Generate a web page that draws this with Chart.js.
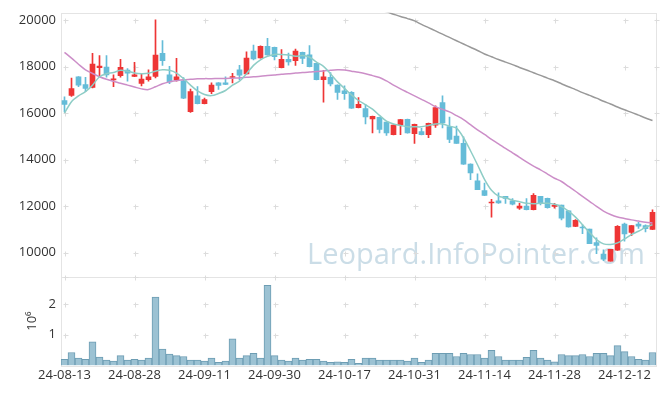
<!DOCTYPE html>
<html>
<head>
<meta charset="utf-8">
<script src="https://cdn.jsdelivr.net/npm/chart.js@4"></script>
<style>
  html, body { margin: 0; padding: 0; background: #fff; }
  canvas { display: block; }
</style>
</head>
<body>
<canvas id="myChart" width="665" height="396"></canvas>
<script>
// trading days (KRX), 24-08-13 .. 24-12-18
const dates = [
  '24-08-13','24-08-14','24-08-16','24-08-19','24-08-20','24-08-21','24-08-22','24-08-23','24-08-26','24-08-27',
  '24-08-28','24-08-29','24-08-30','24-09-02','24-09-03','24-09-04','24-09-05','24-09-06','24-09-09','24-09-10',
  '24-09-11','24-09-12','24-09-13','24-09-19','24-09-20','24-09-23','24-09-24','24-09-25','24-09-26','24-09-27',
  '24-09-30','24-10-02','24-10-04','24-10-07','24-10-08','24-10-10','24-10-11','24-10-14','24-10-15','24-10-16',
  '24-10-17','24-10-18','24-10-21','24-10-22','24-10-23','24-10-24','24-10-25','24-10-28','24-10-29','24-10-30',
  '24-10-31','24-11-01','24-11-04','24-11-05','24-11-06','24-11-07','24-11-08','24-11-11','24-11-12','24-11-13',
  '24-11-14','24-11-15','24-11-18','24-11-19','24-11-20','24-11-21','24-11-22','24-11-25','24-11-26','24-11-27',
  '24-11-28','24-11-29','24-12-02','24-12-03','24-12-04','24-12-05','24-12-06','24-12-09','24-12-10','24-12-11',
  '24-12-12','24-12-13','24-12-16','24-12-17','24-12-18'
];

const openP = [
  16540,16760,17560,17220,17100,17950,17980,17430,17610,17850,
  17570,17270,17440,17570,18570,17640,17430,17390,16060,16740,
  16400,16920,17300,17300,17530,17860,17680,18660,18370,18870,
  18830,17950,18310,18250,18610,18500,18140,17440,17540,17200,
  16960,16890,16230,16190,15750,15820,15610,15070,15490,15730,
  15110,15210,15070,15480,16450,15420,15010,14700,13810,13090,
  12670,12140,12230,12420,12230,11910,12000,11850,12420,12340,
  11990,12050,11800,11130,11100,11020,10440,9940,9640,10110,
  11230,10870,11230,11170,11000
];
const highP = [
  16700,17500,17570,17540,18570,18470,18470,17640,18310,17910,
  18180,17690,17860,20010,19110,18010,18350,17530,17030,17140,
  16640,17300,17310,17560,17710,18050,18630,18920,18890,19210,
  18840,18730,18580,18750,18620,18900,18140,17840,17740,17210,
  17170,16920,16670,16360,15870,15830,15610,15490,15730,15740,
  15530,15340,15570,16310,16740,15830,15440,14980,13820,13390,
  12990,12290,12570,12420,12330,12120,12330,12540,12420,12350,
  12120,12050,11810,11420,11200,11020,10640,10120,10150,11160,
  11270,11160,11300,11200,11840
];
const lowP = [
  16050,16720,17130,16920,17080,17590,17540,17130,17540,17370,
  17560,17170,17370,17510,18050,17260,17370,16620,16030,16390,
  16390,16830,17020,17220,17300,17420,17670,18280,18360,18490,
  18280,17940,18060,18050,18120,17980,17430,16470,17170,16590,
  16590,16200,16220,15530,15150,15150,15040,15060,15070,15140,
  14700,15060,14940,15380,15360,14730,14700,13790,13140,12710,
  12450,11530,12120,12120,12050,11860,11840,11840,12050,11910,
  11910,11410,11100,11120,10820,10390,9960,9660,9640,10100,
  10490,10730,11040,10890,10990
];
const closeP = [
  16370,17050,17200,17060,18110,18020,17640,17470,17970,17720,
  17640,17460,17560,18490,18250,17340,17560,16640,16920,16400,
  16580,17200,17190,17230,17570,17630,18360,18330,18870,18500,
  18420,18310,18200,18660,18350,17990,17440,17560,17250,16890,
  16830,16210,16380,15830,15860,15300,15150,15480,15720,15150,
  15520,15070,15560,16240,15580,14870,14700,13800,13430,12710,
  12460,12180,12140,12330,12080,12000,11850,12470,12120,11930,
  12050,11480,11110,11390,11060,10390,10310,9720,10140,11130,
  10810,11160,11140,11030,11740
];

// volume, shares
const volume = [
  200000,420000,235000,200000,770000,270000,170000,140000,320000,170000,
  200000,170000,235000,2230000,530000,365000,320000,290000,170000,170000,
  140000,235000,100000,140000,870000,235000,320000,390000,235000,2610000,
  320000,170000,140000,235000,170000,200000,200000,140000,100000,120000,
  100000,200000,70000,235000,235000,170000,170000,170000,170000,140000,
  235000,100000,170000,390000,390000,390000,290000,390000,355000,355000,
  235000,490000,290000,170000,170000,170000,260000,490000,235000,170000,
  120000,355000,320000,320000,355000,290000,390000,390000,320000,645000,
  450000,290000,200000,170000,420000
];

// moving averages
const ma5 = [
  16000,16490,16740,16920,17200,17560,17690,17740,17840,17800,
  17720,17690,17710,17800,17860,17840,17720,17480,17200,16950,
  16800,16750,16840,16970,17200,17370,17690,18050,18290,18440,
  18520,18520,18500,18440,18470,18400,18190,18010,17690,17340,
  17060,16780,16540,16360,16170,15900,15650,15530,15470,15410,
  15410,15410,15470,15530,15530,15440,15350,14940,14380,13780,
  13150,12680,12430,12360,12260,12190,12120,12100,12120,12120,
  12080,11980,11790,11530,11200,10870,10560,10380,10350,10420,
  10590,10780,10920,11090,11200
];
const ma20 = [
  18610,18360,18100,17860,17700,17560,17450,17370,17280,17200,
  17120,17040,17010,17130,17260,17340,17390,17430,17450,17470,
  17480,17480,17490,17490,17500,17510,17540,17560,17580,17610,
  17640,17670,17690,17720,17740,17760,17790,17810,17840,17860,
  17850,17800,17750,17690,17610,17530,17380,17200,17040,16890,
  16740,16590,16440,16280,16160,16050,15890,15720,15500,15280,
  15080,14870,14680,14480,14290,14100,13900,13720,13560,13380,
  13200,13060,12850,12640,12420,12210,11990,11790,11640,11530,
  11470,11410,11360,11310,11280
];
const ma120 = [
  null,null,null,null,null,null,null,null,null,null,
  null,null,null,null,null,null,null,null,null,null,
  null,null,null,null,null,null,null,null,null,null,
  null,null,null,null,null,null,null,null,null,null,
  null,null,null,null,20540,20440,20350,20250,20150,20060,
  19960,19810,19670,19530,19390,19250,19110,18970,18830,18690,
  18540,18420,18300,18190,18080,17960,17850,17730,17620,17500,
  17390,17260,17130,17010,16880,16760,16640,16510,16390,16260,
  16140,16030,15910,15790,15680
];

const priceTicks = [10000, 12000, 14000, 16000, 18000, 20000];
const volTicks = [1000000, 2000000];
const xTickEvery = 10;

const UP = '#ee3535';
const DOWN = '#65bcd8';

const bodies = dates.map((d, i) => [openP[i], closeP[i]]);
const wicks = dates.map((d, i) => [lowP[i], highP[i]]);
const candleColor = (ctx) => closeP[ctx.dataIndex] >= openP[ctx.dataIndex] ? UP : DOWN;

// border lines, "+" grid marks and the watermark
const decor = {
  id: 'decor',
  beforeDatasetsDraw(chart) {
    const { ctx, chartArea: a, scales } = chart;
    const x = scales.x, y = scales.y, v = scales.v;
    ctx.save();

    // watermark
    const wm = 'Leopard.InfoPointer.com';
    ctx.font = '32px "Open Sans"';
    const w = ctx.measureText(wm).width;
    const size = 32 * 338 / w;
    ctx.font = size + 'px "Open Sans"';
    ctx.fillStyle = 'rgba(190,213,225,0.8)';
    ctx.textBaseline = 'alphabetic';
    ctx.fillText(wm, 307, 264);

    // panel borders
    ctx.strokeStyle = '#e4e4e4';
    ctx.lineWidth = 1;
    ctx.strokeRect(Math.round(a.left) + 0.5, Math.round(y.top) + 0.5, Math.round(a.right - a.left), Math.round(y.bottom - y.top));
    ctx.strokeRect(Math.round(a.left) + 0.5, Math.round(v.top) + 0.5, Math.round(a.right - a.left), Math.round(v.bottom - v.top));

    // "+" marks
    ctx.strokeStyle = '#dcdcdc';
    const cross = (px, py) => {
      px = Math.round(px) + 0.5; py = Math.round(py) + 0.5;
      ctx.beginPath();
      ctx.moveTo(px - 2, py); ctx.lineTo(px + 3, py);
      ctx.moveTo(px, py - 2); ctx.lineTo(px, py + 3);
      ctx.stroke();
    };
    for (let i = 0; i < dates.length; i += xTickEvery) {
      const px = x.getPixelForValue(i);
      priceTicks.forEach(t => cross(px, y.getPixelForValue(t)));
      volTicks.forEach(t => cross(px, v.getPixelForValue(t)));
      cross(px, y.bottom);
    }
    priceTicks.forEach(t => cross(a.right, y.getPixelForValue(t)));
    ctx.restore();
  }
};

const fontTicks = { family: '"Open Sans", "Noto Sans", sans-serif', size: 13 };

const config = {
  data: {
    labels: dates,
    datasets: [
      { type: 'line', label: 'MA5', data: ma5, yAxisID: 'y', borderColor: '#8ecdc6', borderWidth: 1.5, pointRadius: 0, tension: 0.3 },
      { type: 'line', label: 'MA20', data: ma20, yAxisID: 'y', borderColor: '#cc8ec8', borderWidth: 1.5, pointRadius: 0, tension: 0.3 },
      { type: 'line', label: 'MA120', data: ma120, yAxisID: 'y', borderColor: '#999999', borderWidth: 1.5, pointRadius: 0, tension: 0.3 },
      { type: 'bar', label: 'body', data: bodies, yAxisID: 'y', grouped: false, barThickness: 5, backgroundColor: candleColor, borderWidth: 0, borderSkipped: false },
      { type: 'bar', label: 'wick', data: wicks, yAxisID: 'y', grouped: false, barThickness: 1, backgroundColor: candleColor, borderWidth: 0, borderSkipped: false },
      { type: 'bar', label: 'volume', data: volume, yAxisID: 'v', grouped: false, barPercentage: 1, categoryPercentage: 1, backgroundColor: '#9cc2d3', borderColor: '#6d9db3', borderWidth: 1 }
    ]
  },
  options: {
    responsive: false,
    animation: false,
    layout: { padding: { top: 10, right: 9, left: 0, bottom: 11 } },
    plugins: { legend: { display: false }, tooltip: { enabled: false } },
    scales: {
      x: {
        type: 'category',
        offset: true,
        grid: { display: false, drawTicks: false },
        border: { display: false },
        ticks: {
          autoSkip: false, maxRotation: 0, padding: 2, color: '#333', font: fontTicks,
          callback: (val, i) => i % xTickEvery === 0 ? dates[i] : null
        }
      },
      v: {
        type: 'linear',
        position: 'left',
        stack: 'panels', stackWeight: 90,
        min: 0, max: 2890000,
        grid: { display: false, drawTicks: false },
        border: { display: false },
        title: { display: true, text: '10⁶', color: '#333', font: fontTicks, padding: { top: 24, bottom: 0 } },
        afterBuildTicks: (s) => { s.ticks = volTicks.map(t => ({ value: t })); },
        ticks: {
          padding: 5, color: '#333', font: fontTicks,
          callback: (val) => String(val / 1000000)
        },
        afterFit: (s) => { s.width = 61; }
      },
      y: {
        type: 'linear',
        position: 'left',
        stack: 'panels', stackWeight: 268,
        min: 8966, max: 20309,
        grid: { display: false, drawTicks: false },
        border: { display: false },
        afterBuildTicks: (s) => { s.ticks = priceTicks.map(t => ({ value: t })); },
        ticks: { padding: 5, color: '#333', font: fontTicks, callback: (val) => String(val) },
        afterFit: (s) => { s.width = 61; }
      }
    }
  },
  plugins: [decor]
};

const myChart = new Chart(document.getElementById('myChart'), config);
</script>
</body>
</html>
